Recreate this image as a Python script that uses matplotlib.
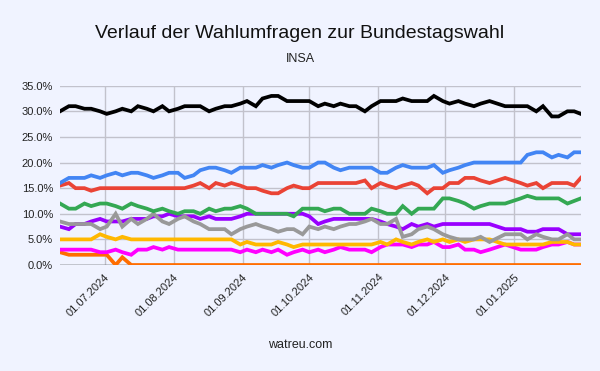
import numpy as np
import pandas as pd
import matplotlib
matplotlib.use("Agg")
import matplotlib.pyplot as plt
import matplotlib.dates as mdates
from matplotlib.ticker import FuncFormatter

plt.rcParams['font.family'] = ['Liberation Sans', 'DejaVu Sans']

# poll dates (INSA)
dates = ["2024-06-11", "2024-06-15", "2024-06-18", "2024-06-22", "2024-06-25", "2024-06-29",
         "2024-07-02", "2024-07-06", "2024-07-09", "2024-07-13", "2024-07-16", "2024-07-20",
         "2024-07-23", "2024-07-27", "2024-07-30",
         "2024-08-03", "2024-08-06", "2024-08-10", "2024-08-13", "2024-08-17", "2024-08-20",
         "2024-08-24", "2024-08-27", "2024-08-31",
         "2024-09-03", "2024-09-07", "2024-09-10", "2024-09-14", "2024-09-17", "2024-09-21",
         "2024-09-24", "2024-09-28",
         "2024-10-01", "2024-10-05", "2024-10-08", "2024-10-12", "2024-10-15", "2024-10-19",
         "2024-10-22", "2024-10-26", "2024-10-29",
         "2024-11-02", "2024-11-05", "2024-11-09", "2024-11-12", "2024-11-16", "2024-11-19",
         "2024-11-23", "2024-11-26", "2024-11-30",
         "2024-12-03", "2024-12-07", "2024-12-10", "2024-12-14", "2024-12-17", "2024-12-21",
         "2024-12-28",
         "2025-01-04", "2025-01-07", "2025-01-11", "2025-01-14", "2025-01-18", "2025-01-21",
         "2025-01-25", "2025-01-28", "2025-01-31"]

union = [30, 31, 31, 30.5, 30.5, 30,
         29.5, 30, 30.5, 30, 31, 30.5, 30, 31, 30,
         30.5, 31, 31, 31, 30, 30.5, 31, 31, 31.5,
         32, 31, 32.5, 33, 33, 32, 32, 32,
         32, 31, 31.5, 31, 31.5, 31, 31, 30, 31,
         32, 32, 32, 32.5, 32, 32, 32, 33, 32,
         31.5, 32, 31.5, 31, 31.5, 32, 31,
         31, 31, 30, 31, 29, 29, 30, 30, 29.5]

afd = [16, 17, 17, 17, 17.5, 17,
       17.5, 18, 17.5, 18, 18, 17.5, 17, 17.5, 18,
       18, 17, 17.5, 18.5, 19, 19, 18.5, 18, 19,
       19, 19, 19.5, 19, 19.5, 20, 19.5, 19,
       19, 20, 20, 19, 18.5, 19, 19, 19, 19,
       18, 18, 19, 19.5, 19, 19, 19, 19.5, 18,
       18.5, 19, 19.5, 20, 20, 20, 20,
       20, 21.5, 22, 22, 21, 21.5, 21, 22, 22]

spd = [15.5, 16, 15, 15, 14.5, 15,
       15, 15, 15, 15, 15, 15, 15, 15, 15,
       15, 15, 15.5, 16, 15, 16, 15.5, 16, 15.5,
       15, 15, 14.5, 14, 14, 15, 15.5, 15,
       15, 16, 16, 16, 16, 16, 16, 16.5, 15,
       16, 15.5, 15, 15.5, 16, 15.5, 14, 15, 15,
       16, 16, 17, 17, 16.5, 16, 17,
       16, 15.5, 16, 15, 16, 16, 16, 15.5, 17]

gruene = [12, 11, 11, 12, 11.5, 12,
          12, 11.5, 11, 12, 11.5, 11, 10.5, 11, 10.5,
          10, 10.5, 10.5, 10, 11, 10.5, 11, 11, 11.5,
          11, 10, 10, 10, 10, 10, 9.5, 11,
          11, 11, 10.5, 11, 11, 10, 10, 10, 11,
          10.5, 10, 10, 11.5, 10, 11, 11, 11, 13,
          13, 12.5, 12, 11, 11.5, 12, 12,
          13, 13.5, 13, 13, 13, 13, 12, 12.5, 13]

bsw = [7.5, 7, 8, 8, 8.5, 9,
       8.5, 8.5, 8.5, 9, 9, 9, 9.5, 9.5, 10,
       9.5, 9.5, 9.5, 9, 9.5, 9, 9, 9, 9.5,
       10, 10, 10, 10, 10, 10, 10, 10,
       9.5, 8, 8.5, 9, 9, 9, 9, 9, 9,
       8.5, 8, 7.5, 7, 8, 7.5, 8, 7.5, 8,
       8, 8, 8, 8, 8, 8, 7,
       7, 6.5, 6.5, 7, 7, 7, 6, 6, 6]

fdp = [5, 5, 5, 5, 5, 6,
       5.5, 5, 5.5, 5, 5, 5, 5, 5, 5,
       5, 5, 5, 5, 5, 5, 5, 5, 4,
       4.5, 4, 4, 4, 4.5, 4, 3.5, 4,
       4, 4, 4, 4, 4, 4, 4, 4, 4,
       4.5, 4, 5, 4.5, 4, 4.5, 5, 4.5, 5,
       4.5, 5, 4.5, 5, 5, 5, 4,
       4, 4, 4, 4, 4.5, 4.5, 4.5, 4, 4]

linke = [3, 3, 3, 3, 3, 2.5,
         2.5, 3, 2.5, 2, 3, 3, 3.5, 3, 3.5,
         3, 3, 3, 3, 3, 3, 3, 3, 2.5,
         3, 2.5, 3, 2.5, 3, 2, 2.5, 3,
         2.5, 3, 2.5, 3, 3.5, 3, 3, 3, 2.5,
         3.5, 4, 4, 4, 3.5, 4, 4, 4.5, 3.5,
         3.5, 4, 3, 3, 2.5, 3, 4,
         3, 3, 3, 3.5, 4, 4, 4.5, 4, 4]

sonstige = [8.5, 8, 8, 8, 8, 7,
            7.5, 10, 7.5, 9, 8, 9, 10, 8.5, 8,
            9, 9.5, 8.5, 8, 7, 7, 7, 6, 7,
            7.5, 8, 7.5, 7, 6.5, 7, 7, 6,
            7.5, 7, 7.5, 7, 7.5, 8, 8, 8.5, 9,
            8, 8, 9, 5.5, 6, 7, 7.5, 7, 6,
            5.5, 5, 5, 5, 5.5, 4.5, 6,
            6, 5, 6, 5.5, 5, 5, 6, 5, 5]

fw = [2.5, 2, 2, 2, 2, 2,
      2, 0, 1.5, 0, 0, 0, 0, 0, 0,
      0, 0, 0, 0, 0, 0, 0, 0, 0,
      0, 0, 0, 0, 0, 0, 0, 0,
      0, 0, 0, 0, 0, 0, 0, 0, 0,
      0, 0, 0, 0, 0, 0, 0, 0, 0,
      0, 0, 0, 0, 0, 0, 0,
      0, 0, 0, 0, 0, 0, 0, 0, 0]

x = pd.to_datetime(dates)

bg = '#F0F3FF'
fig = plt.figure(figsize=(6, 3.71), dpi=100, facecolor=bg)
ax = fig.add_axes([0.1, 0.2857, 0.868, 0.4833], facecolor=bg)

ax.axhline(0, color='#333333', lw=1, zorder=1)

lw = 2.7
series = [
    (fw, '#FF6D00'),
    (linke, '#FF00FF'),
    (fdp, '#FFB800'),
    (bsw, '#9900FF'),
    (sonstige, '#999999'),
    (gruene, '#34A853'),
    (spd, '#EA4335'),
    (afd, '#4285F4'),
    (union, '#000000'),
]
for vals, col in series:
    ax.plot(x, vals, color=col, lw=lw, solid_joinstyle='miter', zorder=3)

ax.set_xlim(x[0], x[-1])
ax.set_ylim(0, 35)
ax.set_yticks(np.arange(0, 36, 5))
ax.yaxis.set_major_formatter(FuncFormatter(lambda v, p: f'{v:.1f}%'))
ax.xaxis.set_major_locator(mdates.MonthLocator())
ax.xaxis.set_major_formatter(mdates.DateFormatter('%d.%m.%Y'))
plt.setp(ax.get_xticklabels(), rotation=45, ha='right', rotation_mode='anchor')

ax.grid(True, color='#C2C2CC', lw=1)
ax.set_axisbelow(True)
ax.tick_params(length=0, labelsize=8, colors='#222222', pad=5)
for s in ax.spines.values():
    s.set_visible(False)

fig.text(0.5, 0.91, 'Verlauf der Wahlumfragen zur Bundestagswahl', ha='center', va='center',
         fontsize=14, color='#111111')
fig.text(0.5, 0.84, 'INSA', ha='center', va='center', fontsize=9, color='#222222')
fig.text(0.5, 0.07, 'watreu.com', ha='center', va='center', fontsize=9, color='#222222')

fig.savefig('out.png', dpi=100, facecolor=bg)
